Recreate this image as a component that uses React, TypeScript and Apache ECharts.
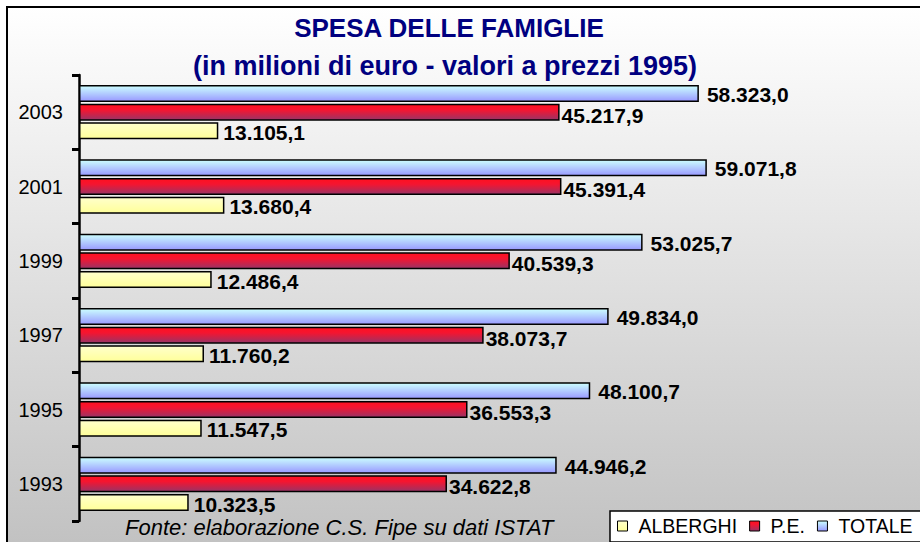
import React, { useEffect, useRef } from 'react';
import * as echarts from 'echarts';

const years = ['1993', '1995', '1997', '1999', '2001', '2003'];
const alberghi = [10323.5, 11547.5, 11760.2, 12486.4, 13680.4, 13105.1];
const pe = [34622.8, 36553.3, 38073.7, 40539.3, 45391.4, 45217.9];
const totale = [44946.2, 48100.7, 49834.0, 53025.7, 59071.8, 58323.0];
const seriesNames = ['ALBERGHI', 'P.E.', 'TOTALE'];
const titleLine1 = 'SPESA DELLE FAMIGLIE';
const titleLine2 = '(in milioni di euro - valori a prezzi 1995)';
const sourceNote = 'Fonte: elaborazione C.S. Fipe su dati ISTAT';

const FONT = '"Liberation Sans", Arial, Helvetica, sans-serif';

function fmt(v: number): string {
  const parts = v.toFixed(1).split('.');
  return parts[0].replace(/\B(?=(\d{3})+(?!\d))/g, '.') + ',' + parts[1];
}

function grad(stops: [number, string][]) {
  return new echarts.graphic.LinearGradient(
    0, 0, 0, 1,
    stops.map(([offset, color]) => ({ offset, color }))
  );
}

export default function App() {
  const ref = useRef<HTMLDivElement>(null);

  useEffect(() => {
    document.body.style.margin = '0';
    if (!ref.current) return;
    const chart = echarts.init(ref.current, undefined, { renderer: 'svg' });

    const labelBase = {
      show: true,
      position: 'right' as const,
      fontSize: 21,
      fontWeight: 'bold' as const,
      color: '#000',
      fontFamily: FONT,
      formatter: (p: any) => fmt(p.value as number),
    };

    const itemBorder = { borderColor: '#000', borderWidth: 1.5 };

    chart.setOption({
      animation: false,
      title: [
        {
          text: titleLine1,
          left: 449,
          top: 15,
          textAlign: 'center',
          padding: 0,
          textStyle: { fontSize: 26, fontWeight: 'bold', color: '#000080', fontFamily: FONT, lineHeight: 26 },
        },
        {
          text: titleLine2,
          left: 445,
          top: 52,
          textAlign: 'center',
          padding: 0,
          textStyle: { fontSize: 27, fontWeight: 'bold', color: '#000080', fontFamily: FONT, lineHeight: 27 },
        },
      ],
      graphic: [
        {
          type: 'rect',
          z: -10,
          silent: true,
          shape: { x: 7, y: 7, width: 1000, height: 600 },
          style: {
            fill: new echarts.graphic.LinearGradient(0, 7, 0, 542, [
              { offset: 0, color: '#ffffff' },
              { offset: 1, color: '#c2c2c2' },
            ], true),
            stroke: '#000',
            lineWidth: 2,
          },
        },
        {
          type: 'rect',
          z: -5,
          silent: true,
          shape: { x: 610, y: 511, width: 400, height: 31 },
          style: { fill: '#ffffff', stroke: '#000', lineWidth: 1.5 },
        },
        {
          type: 'text',
          x: 125,
          y: 527,
          silent: true,
          style: {
            text: sourceNote,
            fontSize: 22,
            fontStyle: 'italic',
            fontFamily: FONT,
            fill: '#000',
            verticalAlign: 'middle',
            align: 'left',
          },
        },
      ],
      legend: {
        data: seriesNames,
        left: 617,
        top: 516,
        width: 500,
        orient: 'horizontal',
        padding: 0,
        itemWidth: 10,
        itemHeight: 10,
        itemGap: 12,
        icon: 'rect',
        selectedMode: false,
        itemStyle: { borderColor: '#000', borderWidth: 1 },
        textStyle: { fontSize: 19.5, color: '#000', fontFamily: FONT, lineHeight: 20, padding: [0, 0, 0, 6] },
      },
      grid: { left: 79, top: 75, right: 97, bottom: 21, containLabel: false },
      xAxis: {
        type: 'value',
        min: 0,
        max: 70000,
        show: false,
        splitLine: { show: false },
      },
      yAxis: {
        type: 'category',
        data: years,
        axisLine: { show: true, lineStyle: { color: '#000', width: 2.5 } },
        axisTick: { show: true, length: 7, inside: false, lineStyle: { color: '#000', width: 3 } },
        axisLabel: { fontSize: 20, color: '#000', fontFamily: FONT, margin: 16 },
        splitLine: { show: false },
      },
      series: [
        {
          name: 'TOTALE',
          type: 'bar',
          data: totale,
          barWidth: 17,
          barGap: '10%',
          itemStyle: { ...itemBorder, color: grad([[0, '#ccffff'], [1, '#9999ff']]) },
          label: { ...labelBase, distance: 8, offset: [0, 1] },
        },
        {
          name: 'P.E.',
          type: 'bar',
          data: pe,
          barWidth: 17,
          barGap: '10%',
          itemStyle: { ...itemBorder, color: grad([[0, '#ff1020'], [0.35, '#f51530'], [1, '#993366']]) },
          label: { ...labelBase, distance: 2, offset: [0, 3] },
        },
        {
          name: 'ALBERGHI',
          type: 'bar',
          data: alberghi,
          barWidth: 17,
          barGap: '10%',
          itemStyle: { ...itemBorder, color: grad([[0, '#ffffcc'], [1, '#ffff99']]) },
          label: { ...labelBase, distance: 5, offset: [0, 1.5] },
        },
      ],
    });

    return () => chart.dispose();
  }, []);

  return <div ref={ref} style={{ width: 920, height: 542 }} />;
}
